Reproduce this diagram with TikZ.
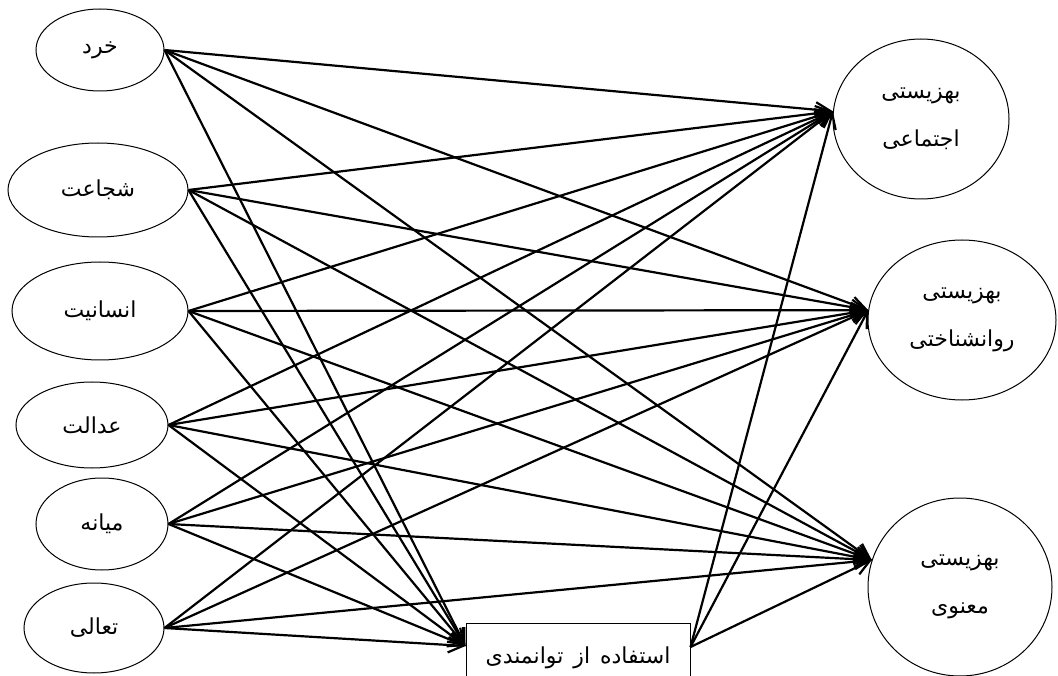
\documentclass[tikz,border=0pt]{standalone}
\usepackage{fontspec}
\usepackage{tikz}
\usetikzlibrary{arrows.meta,shapes.geometric}
\TeXXeTstate=1
\newfontfamily\arabicfont[Script=Arabic]{DejaVu Sans}
\newcommand{\rl}[1]{\beginR#1\endR}

\begin{document}
\begin{tikzpicture}[
  x=1pt, y=-1pt,
  font=\arabicfont\fontsize{22}{48}\selectfont,
  el/.style={draw, ellipse, line width=1pt, inner sep=0pt, align=center},
  bx/.style={draw, line width=1pt, minimum width=224pt, minimum height=70pt,
             inner sep=0pt},
  arr/.style={-{Straight Barb[length=15pt,width=15pt]}, line width=2.2pt}
]
\useasboundingbox (0,0) rectangle (1058,676);
\clip (0,0) rectangle (1058,676);
% left: strengths
\node[el, minimum width=128pt, minimum height=82pt] (kh) at (100,50) {\rl{خرد}};
\node[el, minimum width=180pt, minimum height=94pt] (sh) at (98,190) {\rl{شجاعت}};
\node[el, minimum width=176pt, minimum height=98pt] (en) at (100,311) {\rl{انسانیت}};
\node[el, minimum width=152pt, minimum height=86pt] (ad) at (92,425) {\rl{عدالت}};
\node[el, minimum width=132pt, minimum height=92pt] (mi) at (102,524) {\rl{میانه}};
\node[el, minimum width=140pt, minimum height=90pt] (ta) at (94,628) {\rl{تعالی}};
% right: well-being
\node[el, minimum width=176pt, minimum height=160pt] (soc) at (921,119)
  {\rl{بهزیستی}\\\rl{اجتماعی}};
\node[el, minimum width=188pt, minimum height=160pt] (psy) at (962,320)
  {\rl{بهزیستی}\\\rl{روانشناختی}};
\node[el, minimum width=184pt, minimum height=178pt] (spi) at (960,587)
  {\rl{بهزیستی}\\\rl{معنوی}};
% mediator
\node[bx] (use) at (578,658)
  {\rl{استفاده\hspace{10pt}از\hspace{10pt}توانمندی}};
\coordinate (useIn) at ([yshift=12pt]use.west);
\coordinate (useOut) at ([yshift=11pt]use.east);

\draw[arr] (kh.east) -- (soc.175);
\draw[arr] (kh.east) -- (psy.174);
\draw[arr] (kh.east) -- (spi.163);
\draw[arr] (kh.east) -- (useIn);
\draw[arr] (sh.east) -- (soc.175);
\draw[arr] (sh.east) -- (psy.174);
\draw[arr] (sh.east) -- (spi.163);
\draw[arr] (sh.east) -- (useIn);
\draw[arr] (en.east) -- (soc.175);
\draw[arr] (en.east) -- (psy.174);
\draw[arr] (en.east) -- (spi.163);
\draw[arr] (en.east) -- (useIn);
\draw[arr] (ad.east) -- (soc.175);
\draw[arr] (ad.east) -- (psy.174);
\draw[arr] (ad.east) -- (spi.163);
\draw[arr] (ad.east) -- (useIn);
\draw[arr] (mi.east) -- (soc.175);
\draw[arr] (mi.east) -- (psy.174);
\draw[arr] (mi.east) -- (spi.163);
\draw[arr] (mi.east) -- (useIn);
\draw[arr] (ta.east) -- (soc.175);
\draw[arr] (ta.east) -- (psy.174);
\draw[arr] (ta.east) -- (spi.163);
\draw[arr] (ta.east) -- (useIn);
\draw[arr] (useOut) -- (soc.175);
\draw[arr] (useOut) -- (psy.174);
\draw[arr] (useOut) -- (spi.163);
\end{tikzpicture}
\end{document}
